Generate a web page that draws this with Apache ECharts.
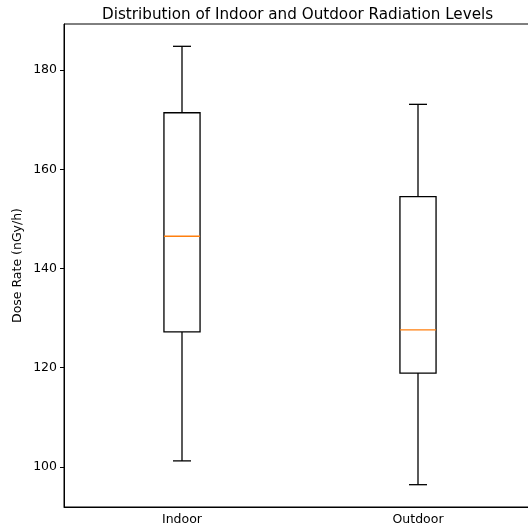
<!DOCTYPE html>
<html>
<head>
<meta charset="utf-8">
<script src="https://cdn.jsdelivr.net/npm/echarts@6/dist/echarts.min.js"></script>
<style>
  html, body { margin: 0; padding: 0; background: #fff; }
  #chart { width: 528px; height: 531px; }
</style>
</head>
<body>
<div id="chart"></div>
<script>
// 数据
var categories = ['Indoor', 'Outdoor'];
var whiskerLow = [101.2, 96.4];
var q1 = [127.2, 118.9];
var median = [146.5, 127.6];
var q3 = [171.4, 154.5];
var whiskerHigh = [184.8, 173.1];
var yTicks = [100, 120, 140, 160, 180];

var boxData = categories.map(function (c, i) {
    return [i, whiskerLow[i], q1[i], median[i], q3[i], whiskerHigh[i]];
});

function renderBox(params, api) {
    var x = api.value(0);
    var lo = api.coord([x, api.value(1)]);
    var b = api.coord([x, api.value(2)]);
    var m = api.coord([x, api.value(3)]);
    var t = api.coord([x, api.value(4)]);
    var hi = api.coord([x, api.value(5)]);
    var half = api.size([1, 0])[0] * 0.153 / 2;
    var cap = half / 2;
    var cx = lo[0];
    var black = { stroke: '#000', lineWidth: 1.3, fill: null };
    return {
        type: 'group',
        children: [
            { type: 'rect', shape: { x: cx - half, y: t[1], width: half * 2, height: b[1] - t[1] }, style: { stroke: '#000', lineWidth: 1.3, fill: '#fff' } },
            { type: 'line', shape: { x1: cx, y1: b[1], x2: cx, y2: lo[1] }, style: black },
            { type: 'line', shape: { x1: cx, y1: t[1], x2: cx, y2: hi[1] }, style: black },
            { type: 'line', shape: { x1: cx - cap, y1: lo[1], x2: cx + cap, y2: lo[1] }, style: black },
            { type: 'line', shape: { x1: cx - cap, y1: hi[1], x2: cx + cap, y2: hi[1] }, style: black },
            { type: 'line', shape: { x1: cx - half, y1: m[1], x2: cx + half, y2: m[1] }, style: { stroke: '#ff7f0e', lineWidth: 1.3 } }
        ]
    };
}

var chart = echarts.init(document.getElementById('chart'));
var option = {
    animation: false,
    textStyle: { fontFamily: 'DejaVu Sans' },
    title: {
        text: 'Distribution of Indoor and Outdoor Radiation Levels',
        left: 97,
        top: 3,
        textStyle: { fontFamily: 'DejaVu Sans', fontSize: 15.2, fontWeight: 'normal', color: '#000' }
    },
    grid: {
        left: 64, top: 24, width: 472, bottom: 24,
        outerBoundsMode: 'none',
        containLabel: false,
        show: true, borderColor: '#000', borderWidth: 1
    },
    xAxis: {
        type: 'category',
        data: categories,
        axisLine: { lineStyle: { color: '#000', width: 1 } },
        axisTick: { alignWithLabel: true, length: 4, lineStyle: { color: '#000' } },
        axisLabel: { color: '#000', fontSize: 12.5, margin: 6 }
    },
    yAxis: {
        type: 'value',
        min: 91.9,
        max: 189.3,
        name: 'Dose Rate (nGy/h)',
        nameLocation: 'middle',
        nameGap: 40,
        nameMoveOverlap: false,
        nameTextStyle: { color: '#000', fontSize: 12.5 },
        splitLine: { show: false },
        axisLine: { show: true, lineStyle: { color: '#000', width: 1 } },
        axisTick: { show: true, length: 4, customValues: yTicks, lineStyle: { color: '#000' } },
        axisLabel: { color: '#000', fontSize: 12.5, margin: 7, customValues: yTicks }
    },
    series: [{
        type: 'custom',
        renderItem: renderBox,
        data: boxData,
        encode: { x: 0, y: [1, 2, 3, 4, 5] }
    }]
};
chart.setOption(option);
</script>
</body>
</html>
